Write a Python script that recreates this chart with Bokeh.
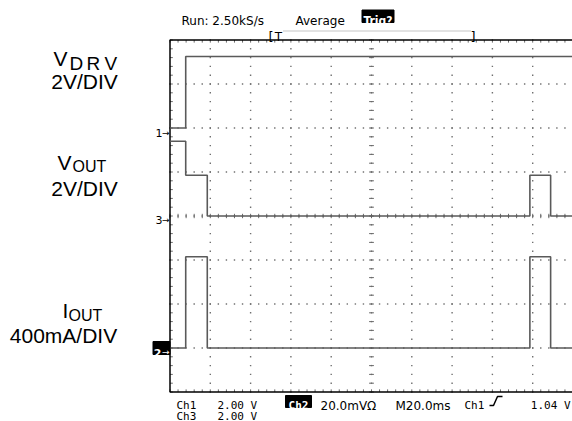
from bokeh.plotting import figure
from bokeh.models import Range1d
from bokeh.core.properties import value
from bokeh.embed import file_html
from bokeh.resources import INLINE

# ---------------- data (time in ms, 20 ms/div, 10 div) ----------------
ch1_t = [0.0, 7.8, 7.8, 200.0]
ch1_v = [0.0, 0.0, 3.25, 3.25]            # V, 2 V/div, ground at +2 div

ch3_t = [0.0, 7.8, 7.8, 18.5, 18.5, 178.6, 178.6, 188.9, 188.9, 200.0]
ch3_v = [3.4, 3.4, 1.85, 1.85, 0.0, 0.0, 1.85, 1.85, 0.0, 0.0]   # V, 2 V/div, ground at 0 div

ch2_t = [0.0, 7.8, 7.8, 18.5, 18.5, 178.6, 178.6, 188.9, 188.9, 200.0]
ch2_i = [0.0, 0.0, 830.0, 830.0, 0.0, 0.0, 830.0, 830.0, 0.0, 0.0]  # mA, 400 mA/div, ground at -3 div

ch1_scale, ch1_off = 2.0, 2.0
ch3_scale, ch3_off = 2.0, 0.0
ch2_scale, ch2_off = 400.0, -3.0

n_hdiv, n_vdiv, ms_per_div = 10, 8, 20.0

# ---------------- layout helpers (picture px -> data) ----------------
X0, PXMS = 169.5, 2.015     # x of t=0, px per ms
Y0, PXDIV = 215.5, 44.0     # y of center, px per div
def X(px): return (px - X0) / PXMS
def Y(py): return (Y0 - py) / PXDIV

W, H = 572, 421
p = figure(width=W, height=H, output_backend="svg", toolbar_location=None,
           x_range=Range1d(X(0), X(W)), y_range=Range1d(Y(H), Y(0)),
           min_border=0, outline_line_color=None)
p.axis.visible = False
p.grid.visible = False

# ---------------- graticule ----------------
T_END = n_hdiv * ms_per_div
dx, dy = [], []
for k in range(1, n_hdiv):
    for j in range(-20, 21):
        dx.append(k * ms_per_div); dy.append(j / 5)
for k in range(-3, 4):
    for j in range(0, 51):
        dx.append(j * ms_per_div / 5); dy.append(k)
p.scatter(dx, dy, marker="square", size=1.4, color="#707070", line_color=None)

# center cross ticks
cx = T_END / 2
tx0, tx1, ty0, ty1 = [], [], [], []
for j in range(-20, 21):
    tx0.append(cx - 1.2); tx1.append(cx + 1.2); ty0.append(j / 5); ty1.append(j / 5)
for j in range(0, 51):
    tx0.append(j * 4); tx1.append(j * 4); ty0.append(-0.05); ty1.append(0.05)
# border ticks
for j in range(0, 51):
    tx0.append(j * 4); tx1.append(j * 4); ty0.append(4); ty1.append(4 - 0.06)
    tx0.append(j * 4); tx1.append(j * 4); ty0.append(-4); ty1.append(-4 + 0.06)
for j in range(-20, 21):
    tx0.append(0); tx1.append(1.4); ty0.append(j / 5); ty1.append(j / 5)
p.segment(tx0, ty0, tx1, ty1, line_color="#6a6a6a", line_width=1)

# border (top, left, bottom; right edge is off screen)
p.line([T_END + 5, 0, 0, T_END + 5], [4, 4, -4, -4], line_color="black", line_width=1.5)

# ---------------- traces ----------------
trace_col = "#5a5a5a"
p.line(ch1_t, [ch1_off + v / ch1_scale for v in ch1_v], line_color=trace_col, line_width=1.6)
p.line(ch3_t, [ch3_off + v / ch3_scale for v in ch3_v], line_color=trace_col, line_width=1.6)
p.line(ch2_t, [ch2_off + i / ch2_scale for i in ch2_i], line_color=trace_col, line_width=1.6)

# ---------------- texts ----------------
LS = value("Liberation Sans")
DJ = value("DejaVu Sans")
DC = value("DejaVu Sans Condensed")
DM = value("DejaVu Sans Mono")

def txt(px, py, s, size, font=LS, align="left", color="black", style="normal"):
    p.text([X(px)], [Y(py)], text=[s], text_font=font, text_font_size=size,
           text_align=align, text_baseline="alphabetic", text_color=color,
           text_font_style=style)

# channel labels
txt(53, 58, "V", "21px")
txt(69, 62.5, "D", "19px"); txt(86, 62.5, "R", "19px"); txt(104, 62.5, "V", "19px")
txt(84, 81, "2V/DIV", "21px", align="center")
txt(57, 162, "V", "21px"); txt(72, 166, "OUT", "16px")
txt(84, 188, "2V/DIV", "21px", align="center")
txt(62, 310, "I", "21px"); txt(68, 315, "OUT", "16px")
txt(63, 335, "400mA/DIV", "21px", align="center")

# top status
txt(181, 20, "Run: 2.50kS/s", "12px", font=DJ)
txt(295, 20, "Average", "12px", font=DJ)
p.quad(left=[X(361.5)], right=[X(393.5)], top=[Y(9.5)], bottom=[Y(22)], color="black")
txt(377.5, 20.5, "Trig?", "12px", font=DC, align="center", color="white", style="bold")
txt(268, 36, "[", "13px", font=DJ)
txt(278, 36, "T", "12px", font=DJ, align="center")
p.line([X(283), X(471)], [Y(30.5), Y(30.5)], line_color="#8a8a8a", line_width=1, line_dash="1 1")
txt(470, 36, "]", "13px", font=DJ)

# channel ground markers
txt(162, 132, "1", "11px", font=DJ, align="right")
txt(169, 132, "\u2192", "9px", font=DJ, align="right")
txt(162, 219, "3", "11px", font=DJ, align="right")
txt(169, 219, "\u2192", "9px", font=DJ, align="right")
p.quad(left=[X(152.5)], right=[X(169.5)], top=[Y(341)], bottom=[Y(354)], color="black")
txt(161, 352, "2", "11px", font=DJ, align="right", color="white", style="bold")
txt(169, 351, "\u2192", "9px", font=DJ, align="right", color="white")

# bottom readout
txt(176, 405, "Ch1", "11px", font=DM)
txt(217, 405, "2.00 V", "11px", font=DM)
p.quad(left=[X(285)], right=[X(311)], top=[Y(395)], bottom=[Y(407)], color="black")
txt(298, 405, "Ch2", "11px", font=DM, align="center", color="white", style="bold")
txt(320, 405, "20.0mV\u03a9", "12px", font=DJ)
txt(395, 405, "M20.0ms", "12px", font=DJ)
txt(464, 405, "Ch1", "11px", font=DM)
p.line([X(489), X(493), X(497), X(502)], [Y(405), Y(405), Y(396), Y(396)], line_color="black", line_width=1.5)
txt(570, 405, "1.04 V", "11px", font=DM, align="right")
txt(176, 415.5, "Ch3", "11px", font=DM)
txt(217, 415.5, "2.00 V", "11px", font=DM)

open("out.html", "w").write(file_html(p, INLINE))
